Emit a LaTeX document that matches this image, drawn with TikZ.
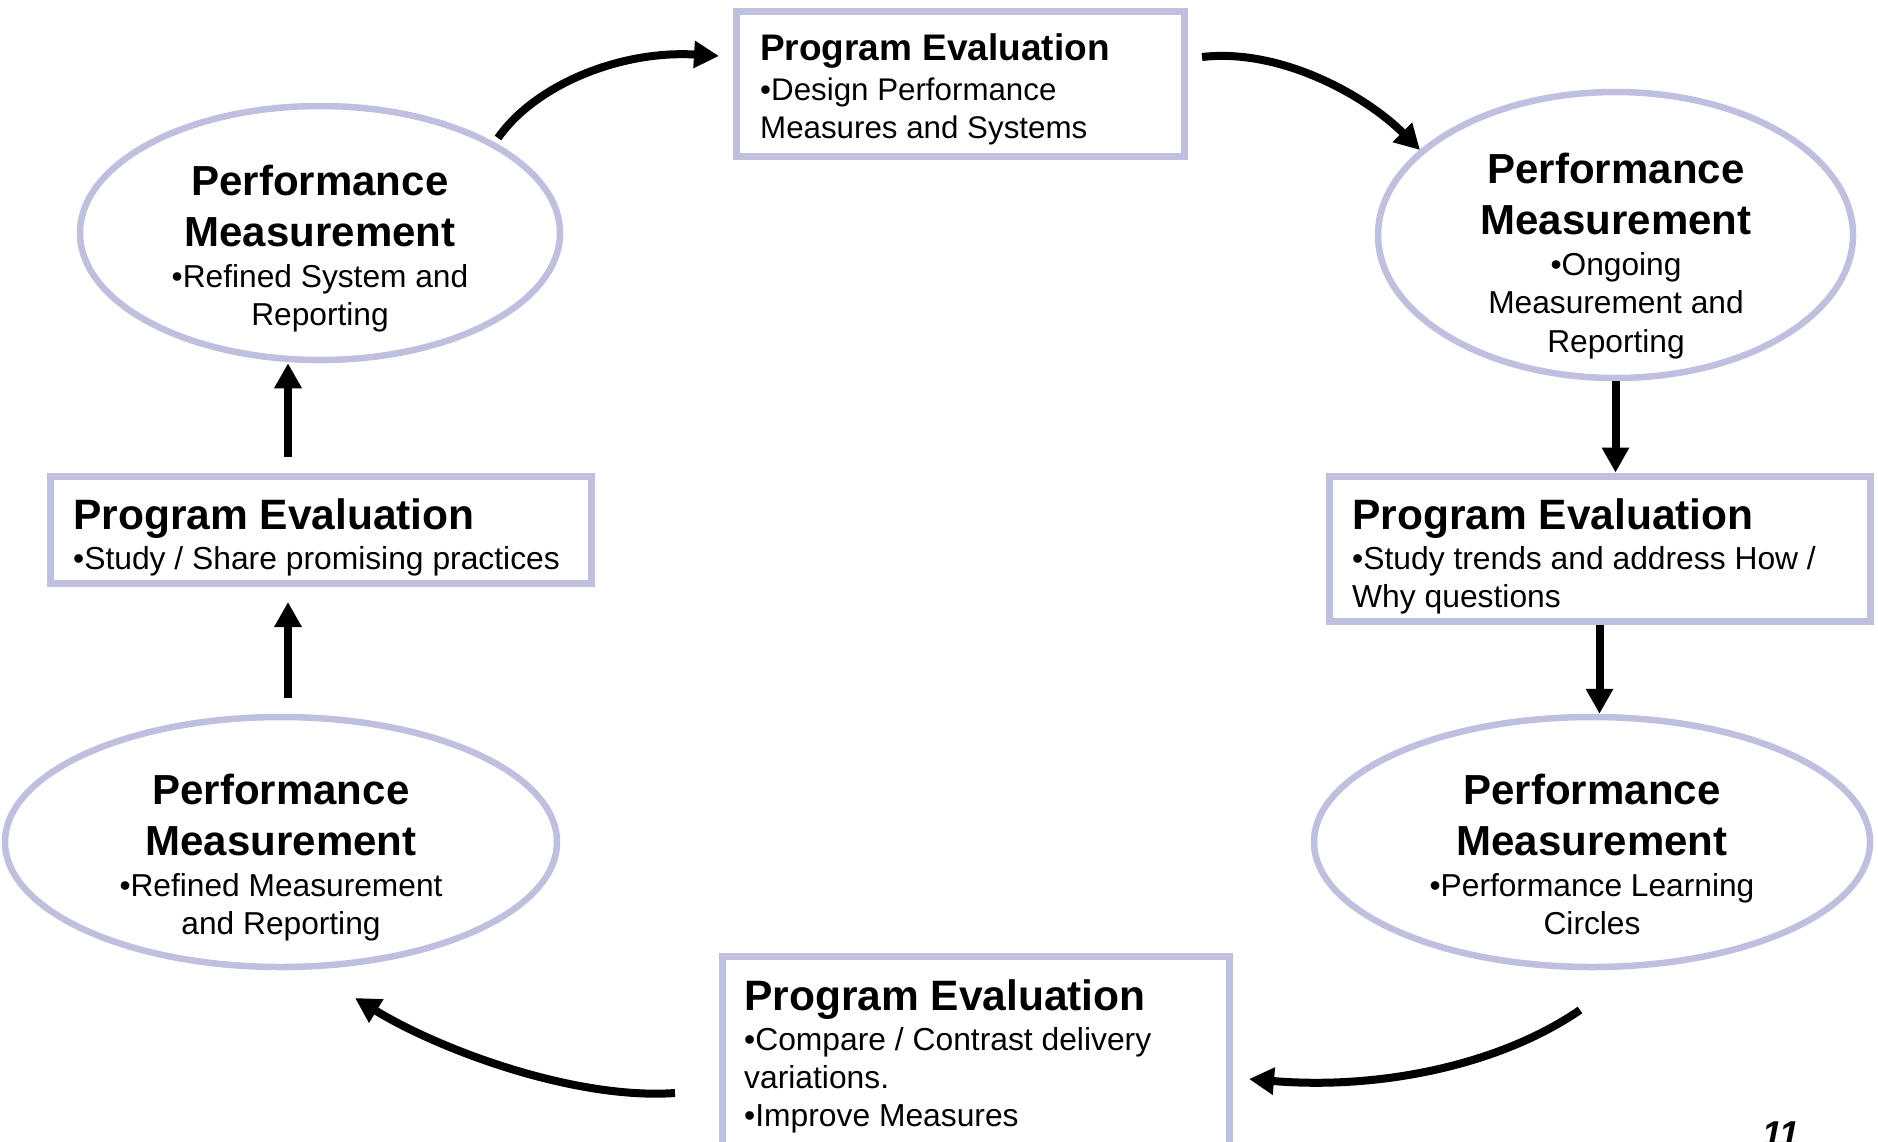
\documentclass[tikz,border=0pt]{standalone}
\usepackage{fontspec}
\setmainfont{Liberation Sans}
\usetikzlibrary{arrows.meta,shapes.geometric}
\definecolor{lav}{RGB}{191,191,223}
% #1 title size, #2 title, #3 body size, #4 body leading
\newcommand{\blocktitle}[5]{{\fontsize{#1}{#5}\selectfont\bfseries\spaceskip=.278em\relax #2\par}\vspace{2.5pt}\fontsize{#3}{#4}\selectfont\spaceskip=.278em\relax}
\begin{document}
\begin{tikzpicture}[x=1pt,y=-1pt,
  pmshape/.style={ellipse, draw=lav, line width=6.5pt, inner sep=0pt},
  peshape/.style={rectangle, draw=lav, line width=7pt, inner sep=0pt},
  boxtext/.style={anchor=base west, inner sep=0pt, text width=#1, align=flush left},
  elltext/.style={anchor=base, inner sep=0pt, text width=#1, align=flush center},
  flow/.style={line width=8pt, -{Triangle[length=25pt,width=26pt]}}
]
\useasboundingbox (0,0) rectangle (1878,1141);
\clip (0,0) rectangle (1878,1141);

% shapes
\node[peshape, minimum width=448pt, minimum height=145pt] (pe1) at (960,83.5) {};
\node[pmshape, minimum width=475pt, minimum height=286pt] (pm2) at (1615.5,235) {};
\node[peshape, minimum width=541pt, minimum height=145pt] (pe2) at (1599.5,548.5) {};
\node[pmshape, minimum width=556pt, minimum height=250pt] (pm3) at (1592,842) {};
\node[peshape, minimum width=507pt, minimum height=202pt] (pe4) at (975.5,1057) {};
\node[pmshape, minimum width=552pt, minimum height=250pt] (pm4) at (281,842) {};
\node[peshape, minimum width=541pt, minimum height=107pt] (pe3) at (320.5,529.5) {};
\node[pmshape, minimum width=480pt, minimum height=254pt] (pm1) at (320,233) {};

% texts
\node[boxtext=420pt] (pe1t) at (760,60) {\blocktitle{37}{Program Evaluation}{31.3}{38}{40}•Design Performance\par Measures and Systems\par};
\node[boxtext=515pt] (pe2t) at (1352,529) {\blocktitle{42.5}{Program Evaluation}{31.8}{38}{40}•Study trends and address How /\par Why questions\par};
\node[boxtext=480pt] (pe4t) at (744,1010) {\blocktitle{42.5}{Program Evaluation}{31.8}{38}{40}•Compare / Contrast delivery\par variations.\par •Improve Measures\par};
\node[boxtext=515pt] (pe3t) at (73,529) {\blocktitle{42.5}{Program Evaluation}{31.8}{38}{40}•Study / Share promising practices\par};

\node[elltext=460pt] (pm1t) at (320,195) {\blocktitle{42}{Performance\par Measurement}{31.7}{38.5}{51}•Refined System and\par Reporting\par};
\node[elltext=460pt] (pm2t) at (1616,183) {\blocktitle{42}{Performance\par Measurement}{31.7}{38.5}{51}•Ongoing\par Measurement and\par Reporting\par};
\node[elltext=500pt] (pm3t) at (1592,804) {\blocktitle{42}{Performance\par Measurement}{31.7}{38.5}{51}•Performance Learning\par Circles\par};
\node[elltext=500pt] (pm4t) at (281,804) {\blocktitle{42}{Performance\par Measurement}{31.7}{38.5}{51}•Refined Measurement\par and Reporting\par};

\node[anchor=base west, inner sep=0pt, font=\fontsize{36}{40}\selectfont\bfseries\itshape] (pgnum) at (1762,1146) {11};

% connectors
\coordinate (a1s) at (498,138);
\coordinate (a1e) at (719,56);
\draw[flow] (a1s) .. controls (535,85) and (620,50) .. (a1e);

\coordinate (a2s) at (1202,57);
\coordinate (a2e) at (1420,150);
\draw[flow] (a2s) .. controls (1280,48) and (1365,95) .. (a2e);

\draw[flow] (pm2.south) -- (pm2.south |- pe2.north);
\draw[flow] (pe2.south) -- (pe2.south |- pm3.north);

\coordinate (a5s) at (1580,1010);
\coordinate (a5e) at (1249,1079);
\draw[flow] (a5s) .. controls (1500,1065) and (1380,1090) .. (a5e);

\coordinate (a6s) at (675,1093);
\coordinate (a6e) at (355,998);
\draw[flow] (a6s) .. controls (575,1100) and (440,1050) .. (a6e);

\coordinate (a7s) at (288,698);
\coordinate (a7e) at (288,602);
\draw[flow] (a7s) -- (a7e);

\coordinate (a8s) at (288,457);
\draw[flow] (a8s) -- (a8s |- pm1.south);
\end{tikzpicture}
\end{document}
